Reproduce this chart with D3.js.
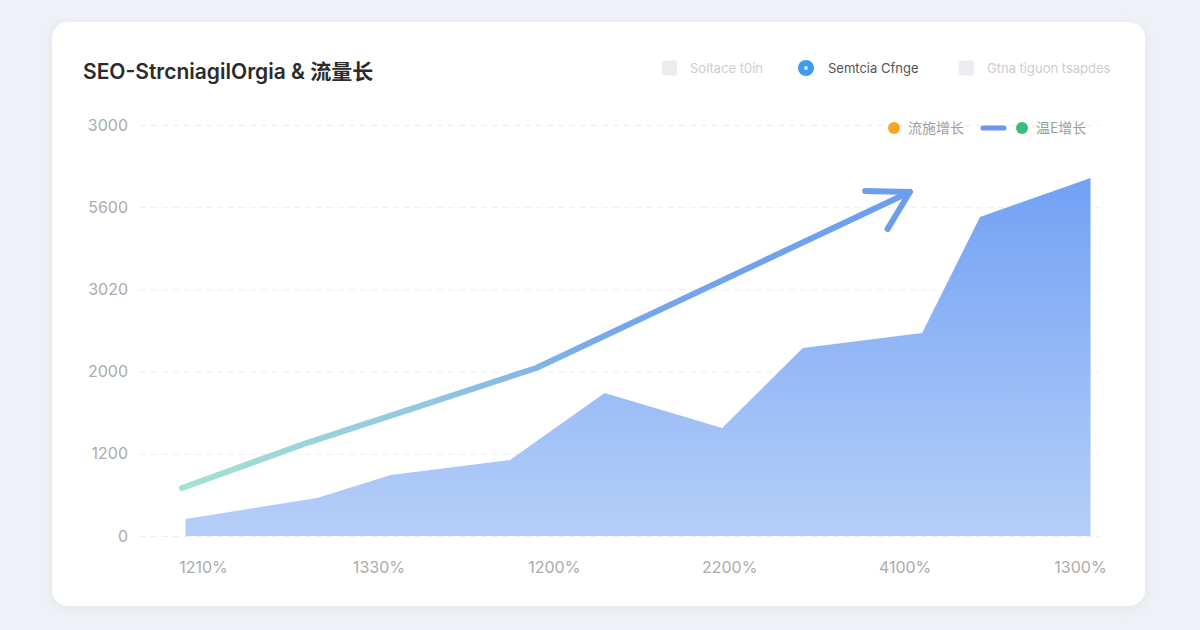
<!DOCTYPE html>
<html lang="en">
<head>
    <meta charset="UTF-8">
    <title>SEO chart</title>
    <script src="https://cdn.jsdelivr.net/npm/d3@7"></script>
    <style type="text/css">
        body {
            margin: 0;
            background: #eef1f5;
        }
        .axis path {
            display: none;
        }
        .axis text {
            font-family: "Inter", "Noto Sans", sans-serif;
            font-size: 16px;
            fill: #ababab;
        }
        .grid line {
            stroke: #ededed;
            stroke-dasharray: 6 5;
        }
        .grid path, .grid text {
            display: none;
        }
    </style>
</head>
<body>
<script>
    // data
    const xLabels = ["1210%", "1330%", "1200%", "2200%", "4100%", "1300%"];
    const yTicks = [0, 1000, 2000, 3000, 4000, 5000];
    const yLabels = ["0", "1200", "2000", "3020", "5600", "3000"];

    // area series (x in label steps, y in value units)
    const areaX = [-0.1, 0.65, 1.07, 1.75, 2.29, 2.96, 3.42, 4.1, 4.43, 5.06];
    const areaY = [207, 462, 742, 925, 1740, 1314, 2287, 2470, 3881, 4355];

    // trend arrow
    const trendX = [-0.12, 0.59, 1.9, 4.03];
    const trendY = [584, 1131, 2044, 4185];

    const topLegend = ["Soltace t0in", "Semtcia Cfnge", "Gtna tiguon tsapdes"];
    const topLegendOn = [false, true, false];
    const sideLegend = ["流施增长", "温E增长"];
    const sideColors = ["#f5a623", "#3dbb7b"];

    let w = 1200, h = 630;
    let svg = d3.select("body").append("svg")
        .attr("width", w)
        .attr("height", h);

    let defs = svg.append("defs");

    let shadow = defs.append("filter").attr("id", "shadow")
        .attr("x", "-5%").attr("y", "-5%").attr("width", "110%").attr("height", "110%");
    shadow.append("feDropShadow")
        .attr("dx", 0).attr("dy", 2).attr("stdDeviation", 6)
        .attr("flood-color", "#9aa6b8").attr("flood-opacity", 0.15);

    let areaGrad = defs.append("linearGradient").attr("id", "areaGrad")
        .attr("gradientUnits", "userSpaceOnUse")
        .attr("x1", 0).attr("x2", 0).attr("y1", 178).attr("y2", 536);
    areaGrad.append("stop").attr("offset", 0).attr("stop-color", "#72a1f4");
    areaGrad.append("stop").attr("offset", 1).attr("stop-color", "#b6cff8");

    let lineGrad = defs.append("linearGradient").attr("id", "lineGrad")
        .attr("gradientUnits", "userSpaceOnUse")
        .attr("x1", 182).attr("x2", 910).attr("y1", 0).attr("y2", 0);
    lineGrad.append("stop").attr("offset", 0).attr("stop-color", "#a2e2d2");
    lineGrad.append("stop").attr("offset", 0.35).attr("stop-color", "#90c6e2");
    lineGrad.append("stop").attr("offset", 0.6).attr("stop-color", "#75a7ec");
    lineGrad.append("stop").attr("offset", 1).attr("stop-color", "#6b9ef0");

    defs.append("marker").attr("id", "arrow")
        .attr("markerUnits", "userSpaceOnUse")
        .attr("viewBox", "-50 -30 60 60")
        .attr("markerWidth", 60).attr("markerHeight", 60)
        .attr("refX", 0).attr("refY", 0)
        .attr("orient", "auto")
        .append("path")
        .attr("d", "M-40,-20 L0,0 L-36,24")
        .attr("fill", "none")
        .attr("stroke", "#6b9ef0")
        .attr("stroke-width", 6)
        .attr("stroke-linecap", "round")
        .attr("stroke-linejoin", "round");

    // card
    svg.append("rect")
        .attr("x", 52).attr("y", 22)
        .attr("width", 1093).attr("height", 584)
        .attr("rx", 16)
        .attr("fill", "#fff")
        .attr("filter", "url(#shadow)");

    svg.append("text")
        .attr("x", 83).attr("y", 79)
        .style("font-family", "Inter, 'Noto Sans CJK SC', sans-serif")
        .style("font-size", "21px")
        .style("font-weight", 600)
        .style("fill", "#2b2b2b")
        .text("SEO-StrcniagilOrgia & 流量长");

    let xScale = d3.scaleLinear().domain([0, 5]).range([203, 1080]);
    let yScale = d3.scaleLinear().domain([0, 5000]).range([536, 125]);

    // grid
    svg.append("g")
        .attr("class", "grid")
        .attr("transform", "translate(140,0)")
        .call(d3.axisLeft(yScale).tickValues(yTicks).tickSize(-960).tickFormat(""));

    // area
    let areaData = areaX.map((x, i) => ({x: x, y: areaY[i]}));
    let area = d3.area()
        .x(d => xScale(d.x))
        .y0(yScale(0))
        .y1(d => yScale(d.y));
    svg.append("path")
        .datum(areaData)
        .attr("d", area)
        .attr("fill", "url(#areaGrad)");

    // trend arrow
    let trendData = trendX.map((x, i) => ({x: x, y: trendY[i]}));
    let line = d3.line()
        .x(d => xScale(d.x))
        .y(d => yScale(d.y));
    svg.append("path")
        .datum(trendData)
        .attr("d", line)
        .attr("fill", "none")
        .attr("stroke", "url(#lineGrad)")
        .attr("stroke-width", 6)
        .attr("stroke-linecap", "round")
        .attr("stroke-linejoin", "round")
        .attr("marker-end", "url(#arrow)");

    // axes
    svg.append("g")
        .attr("class", "y axis")
        .attr("transform", "translate(140,0)")
        .call(d3.axisLeft(yScale).tickValues(yTicks).tickSize(0).tickPadding(12)
            .tickFormat((d, i) => yLabels[i]));

    svg.append("g")
        .attr("class", "x axis")
        .attr("transform", "translate(0,536)")
        .call(d3.axisBottom(xScale).tickValues(d3.range(xLabels.length)).tickSize(0).tickPadding(26)
            .tickFormat((d, i) => xLabels[i]));

    // top legend
    let legX = [662, 800, 959];
    topLegend.forEach((name, i) => {
        let g = svg.append("g").attr("transform", "translate(" + legX[i] + ",68)");
        if (topLegendOn[i]) {
            g.append("circle").attr("cx", 6).attr("r", 8).attr("fill", "#3d9cf0");
            g.append("circle").attr("cx", 6).attr("r", 2).attr("fill", "#cfe6fb");
        } else {
            g.append("rect").attr("x", 0).attr("y", -7.5)
                .attr("width", 15).attr("height", 15).attr("rx", 3)
                .attr("fill", "#eaecef");
        }
        g.append("text")
            .attr("x", 28)
            .attr("dy", "0.35em")
            .style("font-family", "Inter, 'Noto Sans', sans-serif")
            .style("font-size", "13px")
            .style("fill", topLegendOn[i] ? "#555" : "#cdcdcd")
            .text(name);
    });

    // side legend
    let sideX = [894, 1022];
    sideLegend.forEach((name, i) => {
        svg.append("circle").attr("cx", sideX[i]).attr("cy", 128).attr("r", 6).attr("fill", sideColors[i]);
        svg.append("text")
            .attr("x", sideX[i] + 14).attr("y", 128).attr("dy", "0.35em")
            .style("font-family", "'Noto Sans CJK SC', sans-serif")
            .style("font-size", "14px")
            .style("fill", "#9d9d9d")
            .text(name);
    });
    svg.append("line")
        .attr("x1", 983).attr("x2", 1004).attr("y1", 128).attr("y2", 128)
        .attr("stroke", "#6a98ee").attr("stroke-width", 5).attr("stroke-linecap", "round");
</script>
</body>
</html>
